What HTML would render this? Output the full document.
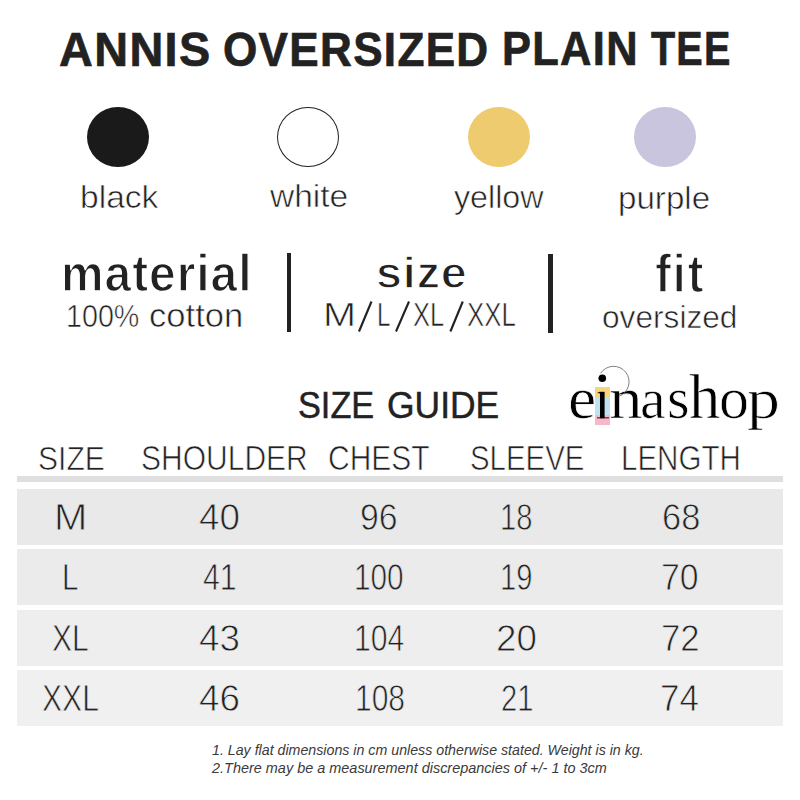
<!DOCTYPE html>
<html><head><meta charset="utf-8">
<style>
html,body{margin:0;padding:0;background:#fff;}
body{width:800px;height:800px;position:relative;overflow:hidden;font-family:"Liberation Sans",sans-serif;color:#222;}
.t{position:absolute;white-space:nowrap;line-height:1;transform-origin:0 0;}
.dot{position:absolute;border-radius:50%;box-sizing:border-box;}
.bar{position:absolute;background:#222;}
.row{position:absolute;left:17px;width:766px;}
</style></head><body>
<div class="dot" style="left:87px;top:106.5px;width:62px;height:60.5px;background:#1a1a1a;"></div>
<div class="dot" style="left:277px;top:106.8px;width:61.8px;height:60px;border:1.3px solid #222;"></div>
<div class="dot" style="left:468px;top:106.5px;width:61.5px;height:60px;background:#eecb6f;"></div>
<div class="dot" style="left:634px;top:106.5px;width:61.5px;height:60px;background:#c9c5de;"></div>

<div class="bar" style="left:286.6px;top:252.8px;width:4.9px;height:78.8px;"></div>
<div class="bar" style="left:548.2px;top:253.6px;width:4.9px;height:79px;"></div>

<div class="row" style="top:476px;height:5.5px;background:#dfdfdf;"></div>
<div class="row" style="top:489px;height:55.5px;background:#e9e9e9;"></div>
<div class="row" style="top:549px;height:56px;background:#ebebeb;"></div>
<div class="row" style="top:610px;height:55.5px;background:#eeeeee;"></div>
<div class="row" style="top:670px;height:56px;background:#f0f0f0;"></div>
<div style="position:absolute;left:595px;top:387px;width:15px;height:10px;background:#f8d57a;"></div>
<div style="position:absolute;left:595px;top:397px;width:15px;height:18px;background:#bfe2f1;"></div>
<div style="position:absolute;left:595px;top:415px;width:15px;height:10px;background:#f7b8c9;"></div>

<div class="t" style="left:59.10px;top:24.77px;font-size:48.23px;font-weight:bold;font-style:normal;color:#222;-webkit-text-stroke:0.7px #222;letter-spacing:0.03em;transform:scaleX(0.9705)">ANNIS</div>
<div class="t" style="left:223.14px;top:24.77px;font-size:48.23px;font-weight:bold;font-style:normal;color:#222;-webkit-text-stroke:0.7px #222;letter-spacing:0.03em;transform:scaleX(0.9137)">OVERSIZED</div>
<div class="t" style="left:502.06px;top:24.17px;font-size:48.92px;font-weight:bold;font-style:normal;color:#222;-webkit-text-stroke:0.7px #222;letter-spacing:0.03em;transform:scaleX(0.8883)">PLAIN</div>
<div class="t" style="left:651.00px;top:24.17px;font-size:48.92px;font-weight:bold;font-style:normal;color:#222;-webkit-text-stroke:0.7px #222;letter-spacing:0.03em;transform:scaleX(0.8093)">TEE</div>
<div class="t" style="left:80.15px;top:180.73px;font-size:32.24px;font-weight:normal;font-style:normal;color:#222;-webkit-text-stroke:0.6px #fff;transform:scaleX(1.0415)">black</div>
<div class="t" style="left:270.00px;top:180.96px;font-size:31.97px;font-weight:normal;font-style:normal;color:#222;-webkit-text-stroke:0.6px #fff;transform:scaleX(1.0476)">white</div>
<div class="t" style="left:454.40px;top:181.78px;font-size:31.84px;font-weight:normal;font-style:normal;color:#222;-webkit-text-stroke:0.6px #fff;transform:scaleX(1.0124)">yellow</div>
<div class="t" style="left:618.28px;top:181.55px;font-size:32.11px;font-weight:normal;font-style:normal;color:#222;-webkit-text-stroke:0.6px #fff;transform:scaleX(1.0321)">purple</div>
<div class="t" style="left:61.15px;top:248.09px;font-size:51.36px;font-weight:bold;font-style:normal;color:#222;-webkit-text-stroke:1.4px #fff;letter-spacing:0.02em;transform:scaleX(0.9328)">material</div>
<div class="t" style="left:65.70px;top:300.82px;font-size:31.21px;font-weight:normal;font-style:normal;color:#222;-webkit-text-stroke:0.6px #fff;transform:scaleX(0.9193)">100%</div>
<div class="t" style="left:149.22px;top:298.34px;font-size:34.11px;font-weight:normal;font-style:normal;color:#222;-webkit-text-stroke:0.6px #fff;transform:scaleX(1.0144)">cotton</div>
<div class="t" style="left:376.14px;top:251.78px;font-size:43.54px;font-weight:bold;font-style:normal;color:#222;-webkit-text-stroke:1.3px #fff;letter-spacing:0.02em;transform:scaleX(1.0690)">size</div>
<div class="t" style="left:323.32px;top:299.27px;font-size:32.66px;font-weight:normal;font-style:normal;color:#222;-webkit-text-stroke:0.6px #fff;transform:scaleX(1.2155)">M</div>
<div class="t" style="left:377.47px;top:299.27px;font-size:32.66px;font-weight:normal;font-style:normal;color:#222;-webkit-text-stroke:0.6px #fff;transform:scaleX(0.7376)">L</div>
<div class="t" style="left:413.44px;top:299.27px;font-size:32.66px;font-weight:normal;font-style:normal;color:#222;-webkit-text-stroke:0.6px #fff;transform:scaleX(0.7799)">XL</div>
<div class="t" style="left:467.03px;top:299.27px;font-size:32.66px;font-weight:normal;font-style:normal;color:#222;-webkit-text-stroke:0.6px #fff;transform:scaleX(0.7897)">XXL</div>
<div class="t" style="left:655.03px;top:247.67px;font-size:52.79px;font-weight:bold;font-style:normal;color:#222;-webkit-text-stroke:1.7px #fff;letter-spacing:0.03em;transform:scaleX(0.9179)">fit</div>
<div class="t" style="left:601.73px;top:302.03px;font-size:31.43px;font-weight:normal;font-style:normal;color:#222;-webkit-text-stroke:0.6px #fff;transform:scaleX(1.0072)">oversized</div>
<div class="t" style="left:298.49px;top:386.86px;font-size:37.59px;font-weight:normal;font-style:normal;color:#222;-webkit-text-stroke:0.5px #222;transform:scaleX(0.9124)">SIZE</div>
<div class="t" style="left:387.23px;top:386.86px;font-size:37.59px;font-weight:normal;font-style:normal;color:#222;-webkit-text-stroke:0.5px #222;transform:scaleX(0.9428)">GUIDE</div>
<div class="t" style="left:37.50px;top:441.51px;font-size:33.90px;font-weight:normal;font-style:normal;color:#222;-webkit-text-stroke:0.7px #fff;transform:scaleX(0.8863)">SIZE</div>
<div class="t" style="left:140.90px;top:441.47px;font-size:34.18px;font-weight:normal;font-style:normal;color:#222;-webkit-text-stroke:0.7px #fff;transform:scaleX(0.8781)">SHOULDER</div>
<div class="t" style="left:327.80px;top:441.21px;font-size:34.61px;font-weight:normal;font-style:normal;color:#222;-webkit-text-stroke:0.7px #fff;transform:scaleX(0.8655)">CHEST</div>
<div class="t" style="left:469.78px;top:441.47px;font-size:34.18px;font-weight:normal;font-style:normal;color:#222;-webkit-text-stroke:0.7px #fff;transform:scaleX(0.8603)">SLEEVE</div>
<div class="t" style="left:620.64px;top:441.47px;font-size:34.18px;font-weight:normal;font-style:normal;color:#222;-webkit-text-stroke:0.7px #fff;transform:scaleX(0.8641)">LENGTH</div>
<div class="t" style="left:211.77px;top:742.75px;font-size:14.56px;font-weight:normal;font-style:italic;color:#3a3a3a;transform:scaleX(0.9766)">1. Lay flat dimensions in cm unless otherwise stated. Weight is in kg.</div>
<div class="t" style="left:212.00px;top:760.75px;font-size:14.56px;font-weight:normal;font-style:italic;color:#3a3a3a;transform:scaleX(0.9935)">2.There may be a measurement discrepancies of +/- 1 to 3cm</div>
<div class="t" style="left:54.00px;top:499.38px;font-size:36.98px;font-weight:normal;font-style:normal;color:#222;-webkit-text-stroke:0.8px #e9e9e9;transform:scaleX(1.0817)">M</div>
<div class="t" style="left:199.06px;top:499.83px;font-size:36.45px;font-weight:normal;font-style:normal;color:#222;-webkit-text-stroke:0.8px #e9e9e9;transform:scaleX(1.0111)">40</div>
<div class="t" style="left:359.91px;top:499.83px;font-size:36.45px;font-weight:normal;font-style:normal;color:#222;-webkit-text-stroke:0.8px #e9e9e9;transform:scaleX(0.9278)">96</div>
<div class="t" style="left:499.68px;top:499.83px;font-size:36.45px;font-weight:normal;font-style:normal;color:#222;-webkit-text-stroke:0.8px #e9e9e9;transform:scaleX(0.8000)">18</div>
<div class="t" style="left:661.68px;top:499.83px;font-size:36.45px;font-weight:normal;font-style:normal;color:#222;-webkit-text-stroke:0.8px #e9e9e9;transform:scaleX(0.9440)">68</div>
<div class="t" style="left:61.88px;top:559.38px;font-size:36.98px;font-weight:normal;font-style:normal;color:#222;-webkit-text-stroke:0.8px #ebebeb;transform:scaleX(0.8000)">L</div>
<div class="t" style="left:203.39px;top:559.38px;font-size:36.98px;font-weight:normal;font-style:normal;color:#222;-webkit-text-stroke:0.8px #ebebeb;transform:scaleX(0.8191)">41</div>
<div class="t" style="left:354.37px;top:559.83px;font-size:36.45px;font-weight:normal;font-style:normal;color:#222;-webkit-text-stroke:0.8px #ebebeb;transform:scaleX(0.8168)">100</div>
<div class="t" style="left:500.13px;top:559.83px;font-size:36.45px;font-weight:normal;font-style:normal;color:#222;-webkit-text-stroke:0.8px #ebebeb;transform:scaleX(0.8000)">19</div>
<div class="t" style="left:660.81px;top:559.83px;font-size:36.45px;font-weight:normal;font-style:normal;color:#222;-webkit-text-stroke:0.8px #ebebeb;transform:scaleX(0.9278)">70</div>
<div class="t" style="left:51.50px;top:620.38px;font-size:36.98px;font-weight:normal;font-style:normal;color:#222;-webkit-text-stroke:0.8px #eeeeee;transform:scaleX(0.8136)">XL</div>
<div class="t" style="left:199.06px;top:620.83px;font-size:36.45px;font-weight:normal;font-style:normal;color:#222;-webkit-text-stroke:0.8px #eeeeee;transform:scaleX(1.0111)">43</div>
<div class="t" style="left:354.08px;top:620.83px;font-size:36.45px;font-weight:normal;font-style:normal;color:#222;-webkit-text-stroke:0.8px #eeeeee;transform:scaleX(0.8282)">104</div>
<div class="t" style="left:496.16px;top:620.83px;font-size:36.45px;font-weight:normal;font-style:normal;color:#222;-webkit-text-stroke:0.8px #eeeeee;transform:scaleX(1.0085)">20</div>
<div class="t" style="left:660.76px;top:620.83px;font-size:36.45px;font-weight:normal;font-style:normal;color:#222;-webkit-text-stroke:0.8px #eeeeee;transform:scaleX(0.9533)">72</div>
<div class="t" style="left:41.60px;top:680.38px;font-size:36.98px;font-weight:normal;font-style:normal;color:#222;-webkit-text-stroke:0.8px #f0f0f0;transform:scaleX(0.8142)">XXL</div>
<div class="t" style="left:199.06px;top:680.83px;font-size:36.45px;font-weight:normal;font-style:normal;color:#222;-webkit-text-stroke:0.8px #f0f0f0;transform:scaleX(1.0111)">46</div>
<div class="t" style="left:355.00px;top:680.83px;font-size:36.45px;font-weight:normal;font-style:normal;color:#222;-webkit-text-stroke:0.8px #f0f0f0;transform:scaleX(0.8230)">108</div>
<div class="t" style="left:500.86px;top:680.83px;font-size:36.45px;font-weight:normal;font-style:normal;color:#222;-webkit-text-stroke:0.8px #f0f0f0;transform:scaleX(0.8000)">21</div>
<div class="t" style="left:659.85px;top:680.38px;font-size:36.98px;font-weight:normal;font-style:normal;color:#222;-webkit-text-stroke:0.8px #f0f0f0;transform:scaleX(0.9452)">74</div>
<div class="t" style="font-family:'Liberation Serif',serif;left:567.96px;top:368.75px;font-size:59.58px;font-weight:normal;font-style:normal;color:#000;-webkit-text-stroke:0.7px #fff;transform:scaleX(1.0660)">e</div>
<div class="t" style="font-family:'Liberation Serif',serif;left:608.65px;top:368.75px;font-size:59.58px;font-weight:normal;font-style:normal;color:#000;-webkit-text-stroke:0.7px #fff;transform:scaleX(1.1311)">n</div>
<div class="t" style="font-family:'Liberation Serif',serif;left:640.19px;top:371.04px;font-size:56.84px;font-weight:normal;font-style:normal;color:#000;-webkit-text-stroke:0.7px #fff;transform:scaleX(1.0150)">a</div>
<div class="t" style="font-family:'Liberation Serif',serif;left:666.68px;top:368.75px;font-size:59.58px;font-weight:normal;font-style:normal;color:#000;-webkit-text-stroke:0.7px #fff;transform:scaleX(0.9746)">s</div>
<div class="t" style="font-family:'Liberation Serif',serif;left:688.88px;top:365.64px;font-size:63.31px;font-weight:normal;font-style:normal;color:#000;-webkit-text-stroke:0.7px #fff;transform:scaleX(0.9872)">h</div>
<div class="t" style="font-family:'Liberation Serif',serif;left:718.60px;top:368.75px;font-size:59.58px;font-weight:normal;font-style:normal;color:#000;-webkit-text-stroke:0.7px #fff;transform:scaleX(1.0071)">o</div>
<div class="t" style="font-family:'Liberation Serif',serif;left:746.68px;top:371.04px;font-size:56.84px;font-weight:normal;font-style:normal;color:#000;-webkit-text-stroke:0.7px #fff;transform:scaleX(1.1595)">p</div>
<svg style="position:absolute;left:0;top:0" width="800" height="800">
<path d="M600.6 373.3 A15.5 15.5 0 1 1 618.8 396.4" fill="none" stroke="#555" stroke-width="0.75"/><circle cx="602.3" cy="378.2" r="3.8" fill="#000"/>
<rect x="600" y="391.8" width="4.6" height="26.4" fill="#000"/>
<path d="M597 393 L600 391.8 L600.5 393.6 Z" fill="#000"/>
<rect x="597" y="417.4" width="12" height="0.9" fill="#000"/>
<g stroke="#222" stroke-width="2.1" stroke-linecap="butt">
<line x1="359" y1="331.5" x2="371.5" y2="301.5"/>
<line x1="396" y1="331.5" x2="409" y2="301.5"/>
<line x1="450.4" y1="331.5" x2="462.8" y2="301.5"/>
</g></svg>

</body></html>
